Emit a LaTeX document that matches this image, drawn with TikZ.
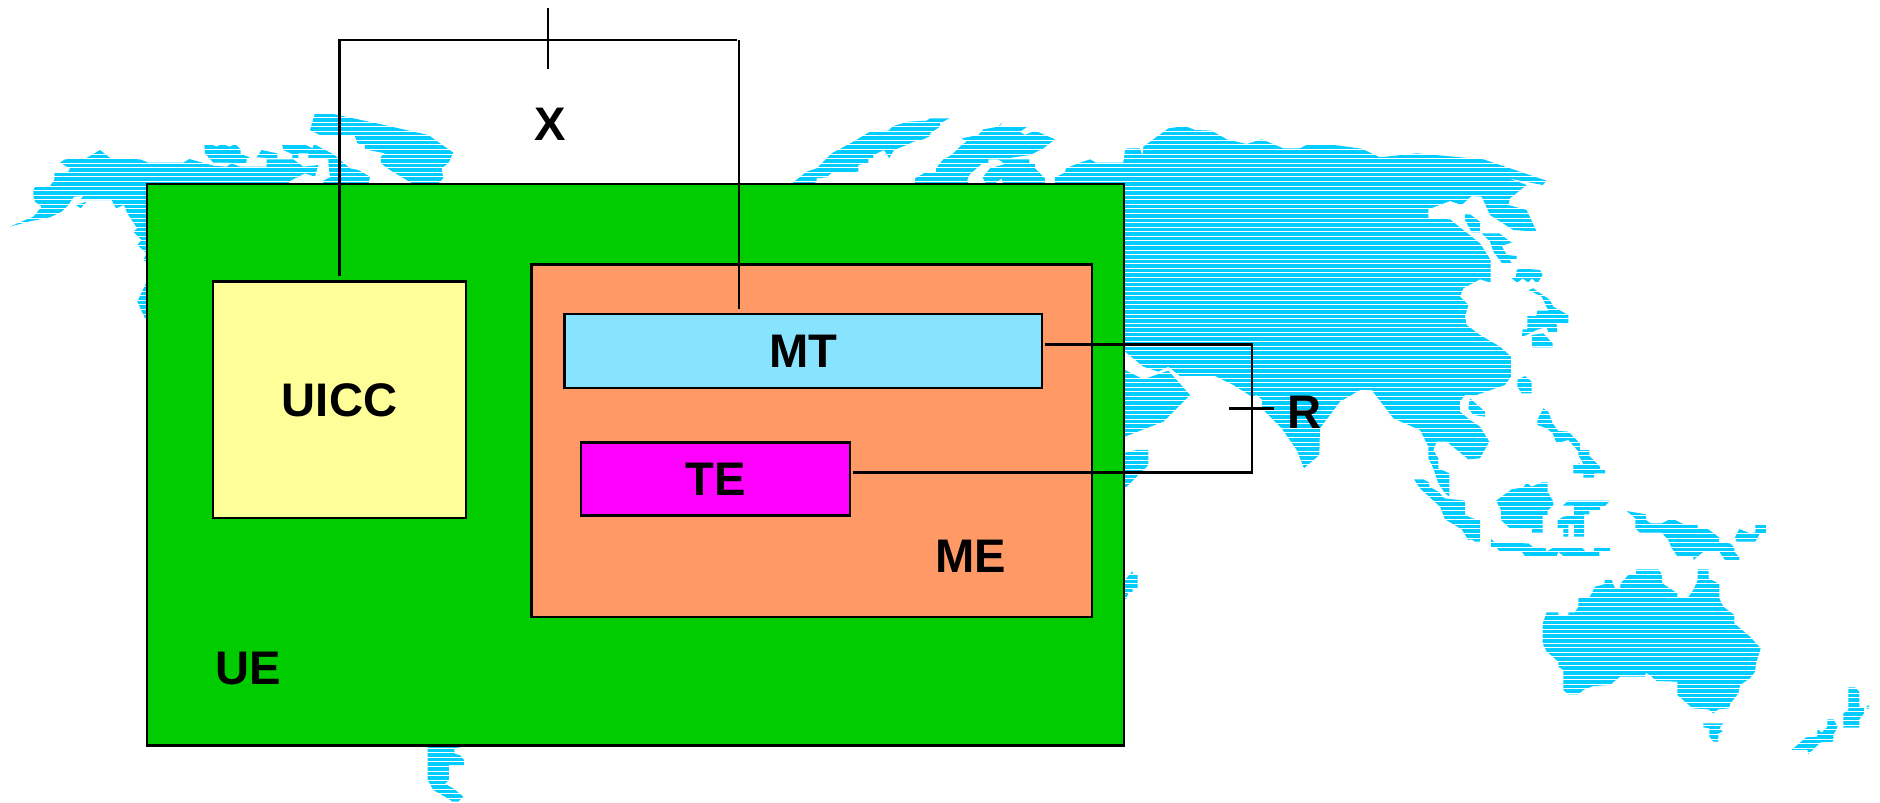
\documentclass[tikz,border=0pt]{standalone}
\usepackage{fontspec}
\usepackage{xcolor}
\setmainfont{Liberation Sans}
\definecolor{landblue}{HTML}{00CCFF}
\definecolor{uegreen}{HTML}{00CC00}
\definecolor{meorange}{HTML}{FF9966}
\definecolor{uiccyellow}{HTML}{FFFF99}
\definecolor{mtblue}{HTML}{88E3FF}
\definecolor{temagenta}{HTML}{FF00FF}
\tikzset{every node/.append style={font=\fontsize{13.4}{16}\selectfont\bfseries}}
\tikzset{land/.style={fill=landblue}}
\tikzset{boxnode/.style={draw=black, line width=.72pt, inner sep=0pt}}
\tikzset{conn/.style={draw=black, line width=.72pt}}
\begin{document}
\begin{tikzpicture}[x=0.01cm, y=-0.01cm]
    \useasboundingbox (0,0) rectangle (1880,802);
    % map, north america
    \begin{scope}[shift={(0,100)}, scale=0.3333]
        \fill[land] (30,380) -- (60,367) -- (100,350) -- (125,320) -- (105,305) -- (100,290) -- (100,272) -- (105,260) -- (150,258) -- (163,240) -- (163,220) -- (205,215) -- (210,205) -- (180,188) -- (195,178) -- (258,175) -- (300,150) -- (332,175) -- (420,178) -- (445,188) -- (550,188) -- (568,177) -- (640,197) -- (680,200) -- (695,190) -- (720,200) -- (800,200) -- (800,178) -- (880,178) -- (910,200) -- (955,195) -- (945,230) -- (915,220) -- (870,243) -- (860,255) -- (460,255) -- (460,660) -- (435,655) -- (412,605) -- (438,550) -- (460,550) -- (460,500) -- (430,480) -- (440,460) -- (412,435) -- (425,420) -- (400,395) -- (412,385) -- (395,360) -- (382,340) -- (372,315) -- (348,325) -- (335,300) -- (240,300) -- (250,288) -- (222,290) -- (205,315) -- (185,335) -- (150,352) -- (85,365) -- cycle;
        \fill[land] (228,315) -- (260,305) -- (242,325) -- cycle;
        \fill[land] (613,132) -- (632,132) -- (650,140) -- (665,132) -- (690,140) -- (705,132) -- (722,148) -- (722,162) -- (750,172) -- (740,175) -- (740,188) -- (705,190) -- (690,188) -- (640,188) -- (615,160) -- cycle;
        \fill[land] (770,172) -- (785,150) -- (832,160) -- (832,175) -- cycle;
        \fill[land] (846,132) -- (912,132) -- (938,145) -- (942,132) -- (985,155) -- (1000,162) -- (1015,175) -- (1050,205) -- (1075,210) -- (1110,230) -- (1105,255) -- (970,255) -- (970,242) -- (990,232) -- (985,190) -- (985,175) -- (925,175) -- (925,160) -- (895,160) -- (895,175) -- (877,175) -- (877,162) -- (850,150) -- cycle;
        \fill[land] (930,90) -- (945,40) -- (1000,42) -- (1130,70) -- (1285,105) -- (1360,158) -- (1345,190) -- (1325,205) -- (1330,235) -- (1310,255) -- (1245,255) -- (1170,210) -- (1143,190) -- (1143,170) -- (1155,160) -- (1095,148) -- (1095,135) -- (1072,130) -- (1065,108) -- (960,105) -- cycle;
    \end{scope}
    % map, south america tip
    \begin{scope}[shift={(130,600)}, scale=0.3333]
        \fill[land] (893,425) -- (1002,425) -- (1000,440) -- (972,445) -- (975,462) -- (990,465) -- (1002,480) -- (1002,495) -- (957,495) -- (957,540) -- (945,552) -- (970,565) -- (1000,590) -- (985,605) -- (968,605) -- (945,590) -- (910,570) -- (893,540) -- cycle;
    \end{scope}
    % map, europe
    \begin{scope}[shift={(760,100)}, scale=0.3333]
        \fill[land] (90,255) -- (115,235) -- (140,215) -- (170,205) -- (215,160) -- (280,125) -- (330,95) -- (385,92) -- (400,78) -- (445,65) -- (500,62) -- (510,55) -- (568,55) -- (540,70) -- (540,80) -- (510,100) -- (510,108) -- (490,118) -- (460,125) -- (440,135) -- (402,150) -- (388,175) -- (372,150) -- (340,165) -- (340,175) -- (325,175) -- (325,188) -- (295,195) -- (295,215) -- (215,218) -- (200,232) -- (170,235) -- (170,245) -- (150,255) -- cycle;
        \fill[land] (465,235) -- (495,218) -- (528,218) -- (528,205) -- (550,178) -- (575,165) -- (605,135) -- (620,125) -- (605,115) -- (655,105) -- (670,88) -- (715,80) -- (728,65) -- (718,80) -- (805,78) -- (780,95) -- (795,105) -- (825,92) -- (885,118) -- (850,145) -- (810,165) -- (720,178) -- (685,178) -- (685,190) -- (665,192) -- (630,222) -- (622,240) -- (625,255) -- (465,255) -- cycle;
        \fill[land] (715,178) -- (808,178) -- (808,192) -- (825,192) -- (825,205) -- (855,235) -- (855,255) -- (730,255) -- (725,235) -- (700,255) -- (680,255) -- (668,232) -- (690,205) -- (735,192) -- cycle;
        \fill[land] (885,255) -- (885,232) -- (915,218) -- (918,205) -- (960,188) -- (990,178) -- (1008,188) -- (1090,188) -- (1100,145) -- (1140,145) -- (1148,170) -- (1150,145) -- (1200,110) -- (1200,300) -- (885,300) -- cycle;
    \end{scope}
    % map, asia
    \begin{scope}[shift={(1100,100)}, scale=0.3333]
        \fill[land] (0,190) -- (70,190) -- (75,150) -- (110,145) -- (128,172) -- (130,140) -- (205,85) -- (255,78) -- (285,90) -- (335,92) -- (380,118) -- (440,132) -- (485,118) -- (550,145) -- (600,145) -- (625,132) -- (680,132) -- (785,146) -- (840,172) -- (950,160) -- (1150,178) -- (1340,242) -- (1328,255) -- (1225,235) -- (1280,255) -- (1230,295) -- (1225,315) -- (1280,330) -- (1310,395) -- (1240,390) -- (1170,345) -- (1145,290) -- (1115,288) -- (1085,315) -- (1050,303) -- (985,328) -- (985,355) -- (1050,358) -- (1140,430) -- (1172,480) -- (1172,548) -- (1140,538) -- (1090,565) -- (1080,590) -- (1105,615) -- (1095,650) -- (1100,675) -- (1140,705) -- (1200,740) -- (1233,770) -- (1233,830) -- (1215,855) -- (1130,885) -- (1095,885) -- (1080,905) -- (1080,935) -- (1110,960) -- (1140,980) -- (1168,1025) -- (1140,1075) -- (1105,1078) -- (1040,1025) -- (1010,1025) -- (1000,1050) -- (1015,1075) -- (1015,1105) -- (1048,1120) -- (1048,1190) -- (1035,1180) -- (1015,1150) -- (1000,1105) -- (985,1075) -- (985,1040) -- (960,990) -- (880,955) -- (815,870) -- (780,870) -- (720,905) -- (660,985) -- (658,1065) -- (612,1105) -- (590,1050) -- (545,985) -- (485,925) -- (487,900) -- (470,885) -- (455,890) -- (400,855) -- (345,828) -- (240,828) -- (205,800) -- (175,815) -- (130,800) -- (75,755) -- (0,755) -- cycle;
        \fill[land] (40,790) -- (75,810) -- (130,838) -- (205,812) -- (270,885) -- (190,965) -- (75,1010) -- (40,1010) -- cycle;
        \fill[land] (40,1060) -- (75,1058) -- (110,1050) -- (145,1050) -- (145,1095) -- (75,1165) -- (40,1165) -- cycle;
        \fill[land] (1095,343) -- (1110,343) -- (1140,365) -- (1140,397) -- (1115,397) -- (1095,360) -- cycle;
        \fill[land] (1145,400) -- (1198,400) -- (1235,428) -- (1205,437) -- (1220,465) -- (1250,468) -- (1250,478) -- (1228,478) -- (1237,492) -- (1208,492) -- (1180,455) -- (1170,425) -- cycle;
        \fill[land] (1250,510) -- (1260,505) -- (1320,510) -- (1328,525) -- (1312,550) -- (1295,535) -- (1285,548) -- (1268,535) -- (1252,548) -- (1235,535) -- (1248,530) -- cycle;
        \fill[land] (1285,570) -- (1300,565) -- (1350,600) -- (1360,620) -- (1405,645) -- (1405,672) -- (1370,672) -- (1372,698) -- (1345,698) -- (1340,680) -- (1310,690) -- (1290,700) -- (1265,712) -- (1268,688) -- (1282,688) -- (1282,648) -- (1310,648) -- (1312,632) -- (1345,632) -- (1325,590) -- cycle;
        \fill[land] (1295,705) -- (1330,700) -- (1358,730) -- (1358,742) -- (1297,742) -- cycle;
        \fill[land] (1252,840) -- (1275,828) -- (1295,845) -- (1295,880) -- (1265,880) -- (1252,860) -- cycle;
        \fill[land] (1110,895) -- (1155,935) -- (1155,950) -- (1120,945) -- (1105,925) -- cycle;
        \fill[land] (1312,960) -- (1330,925) -- (1345,935) -- (1358,970) -- (1375,993) -- (1405,995) -- (1440,1030) -- (1440,1060) -- (1405,1020) -- (1370,1030) -- (1358,1000) -- (1340,985) -- (1312,975) -- cycle;
        \fill[land] (1420,1095) -- (1440,1090) -- (1440,1115) -- (1425,1115) -- cycle;
    \end{scope}
    % map, madagascar
    \begin{scope}[shift={(1100,420)}, scale=0.3333]
        \fill[land] (60,480) -- (75,480) -- (98,453) -- (98,465) -- (113,465) -- (113,505) -- (98,505) -- (98,515) -- (85,518) -- (80,535) -- (70,540) -- (60,540) -- cycle;
    \end{scope}
    % map, indonesia and australia
    \begin{scope}[shift={(1400,450)}, scale=0.3333]
        \fill[land] (535,0) -- (568,0) -- (568,18) -- (600,50) -- (600,60) -- (615,60) -- (615,70) -- (582,70) -- (582,83) -- (550,83) -- (550,70) -- (520,70) -- (520,42) -- (550,42) -- (535,15) -- cycle;
        \fill[land] (42,88) -- (70,88) -- (88,98) -- (88,110) -- (115,125) -- (133,145) -- (195,152) -- (195,195) -- (218,205) -- (240,210) -- (240,275) -- (225,275) -- (215,268) -- (205,270) -- (185,238) -- (135,208) -- (120,170) -- (60,115) -- cycle;
        \fill[land] (273,267) -- (285,278) -- (385,280) -- (400,292) -- (438,295) -- (438,305) -- (460,293) -- (545,293) -- (555,303) -- (582,303) -- (582,293) -- (630,293) -- (630,303) -- (598,303) -- (598,318) -- (522,318) -- (505,318) -- (490,318) -- (475,305) -- (470,318) -- (375,318) -- (365,305) -- (300,305) -- (290,293) -- (273,293) -- cycle;
        \fill[land] (288,152) -- (335,118) -- (370,112) -- (380,98) -- (395,110) -- (425,97) -- (443,97) -- (443,125) -- (460,155) -- (460,165) -- (443,182) -- (443,195) -- (428,195) -- (428,248) -- (396,248) -- (396,235) -- (330,235) -- (303,210) -- (303,180) -- cycle;
        \fill[land] (490,165) -- (505,152) -- (630,152) -- (615,168) -- (600,168) -- (600,180) -- (568,180) -- (568,193) -- (552,193) -- (552,260) -- (522,260) -- (522,225) -- (505,225) -- (505,260) -- (490,260) -- (490,235) -- (473,235) -- (473,210) -- (490,200) -- (522,195) -- (522,167) -- (490,167) -- cycle;
        \fill[land] (680,183) -- (738,193) -- (738,210) -- (752,220) -- (785,220) -- (805,210) -- (825,210) -- (850,222) -- (893,222) -- (893,235) -- (925,238) -- (957,262) -- (957,278) -- (990,280) -- (1003,292) -- (1003,305) -- (1018,322) -- (1018,330) -- (975,330) -- (958,305) -- (910,305) -- (880,330) -- (880,318) -- (832,318) -- (815,295) -- (805,270) -- (785,248) -- (720,248) -- (706,235) -- (706,205) -- cycle;
        \fill[land] (1005,262) -- (1018,237) -- (1050,250) -- (1066,247) -- (1066,222) -- (1098,222) -- (1098,248) -- (1080,250) -- (1066,275) -- (1010,275) -- cycle;
        \fill[land] (428,520) -- (440,487) -- (475,487) -- (475,495) -- (505,495) -- (505,487) -- (525,487) -- (535,470) -- (535,445) -- (570,440) -- (585,410) -- (612,403) -- (615,390) -- (635,390) -- (645,415) -- (660,415) -- (662,400) -- (685,375) -- (708,375) -- (708,358) -- (775,358) -- (785,372) -- (787,400) -- (832,430) -- (832,441) -- (865,441) -- (880,420) -- (893,390) -- (893,358) -- (926,358) -- (926,385) -- (958,402) -- (958,445) -- (970,470) -- (1003,495) -- (1003,520) -- (1050,560) -- (1082,595) -- (1068,640) -- (1065,665) -- (1050,685) -- (1020,705) -- (1015,730) -- (990,762) -- (988,775) -- (955,778) -- (940,790) -- (925,778) -- (878,775) -- (832,735) -- (832,695) -- (770,693) -- (755,680) -- (738,668) -- (735,680) -- (660,680) -- (630,705) -- (580,708) -- (550,720) -- (535,733) -- (505,733) -- (490,720) -- (490,660) -- (475,650) -- (475,635) -- (458,620) -- (440,605) -- (428,580) -- cycle;
        \fill[land] (910,820) -- (970,820) -- (958,835) -- (968,845) -- (955,850) -- (955,875) -- (940,875) -- (928,860) -- (928,835) -- (910,832) -- cycle;
        \fill[land] (1345,712) -- (1365,712) -- (1378,725) -- (1378,770) -- (1392,775) -- (1392,790) -- (1378,808) -- (1378,833) -- (1330,833) -- (1330,790) -- (1345,780) -- cycle;
        \fill[land] (1395,772) -- (1408,765) -- (1405,778) -- cycle;
        \fill[land] (1175,900) -- (1218,862) -- (1252,860) -- (1252,835) -- (1265,848) -- (1282,830) -- (1282,808) -- (1300,808) -- (1313,830) -- (1300,855) -- (1300,875) -- (1262,877) -- (1225,912) -- (1222,900) -- cycle;
    \end{scope}
    % stripes over the land
    \foreach \k in {0,...,175}
        \draw[white, line width=.22pt] (0,{3.2+4.57*\k}) -- (1880,{3.2+4.57*\k});
    % boxes
    \node[boxnode, fill=uegreen, minimum width=9.76cm, minimum height=5.61cm] (ue) at (635.5,464.7) {};
    \node[boxnode, fill=meorange, minimum width=5.605cm, minimum height=3.52cm] (me) at (811.75,440.8) {};
    \node[boxnode, fill=uiccyellow, minimum width=2.53cm, minimum height=2.36cm] (uicc) at (339.5,399.8) {UICC};
    \node[boxnode, fill=mtblue, minimum width=4.773cm, minimum height=.74cm] (mt) at (803.4,350.8) {MT};
    \node[boxnode, fill=temagenta, minimum width=2.69cm, minimum height=.73cm] (te) at (715.5,479.2) {TE};
    \node (uelabel) at (248,668) {UE};
    \node (melabel) at (971,556) {ME};
    \node (xlabel) at (550,124) {X};
    \node (rlabel) at (1304,412) {R};
    % reference point x
    \coordinate (xleft) at (339.5,40);
    \coordinate (xright) at (737,40);
    \coordinate (xdrop) at (739,40);
    \coordinate (mttop) at (739,309);
    \coordinate (xticka) at (548,8);
    \coordinate (xtickb) at (548,69);
    \draw[conn] ([yshift=.04cm]uicc.north) -- (xleft) -- (xright);
    \draw[conn] (xdrop) -- (mttop);
    \draw[conn] (xticka) -- (xtickb);
    % reference point r
    \coordinate (mtend) at (1045,344.5);
    \coordinate (teend) at (853,472.5);
    \coordinate (rtop) at (1252,344.5);
    \coordinate (rbot) at (1252,472.5);
    \coordinate (rticka) at (1229,408.5);
    \coordinate (rtickb) at (1274,408.5);
    \draw[conn] (mtend) -- (rtop) -- (rbot) -- (teend);
    \draw[conn] (rticka) -- (rtickb);
\end{tikzpicture}
\end{document}
